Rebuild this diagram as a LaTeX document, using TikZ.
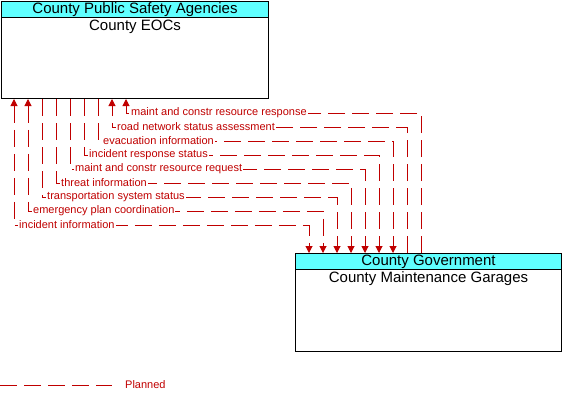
\documentclass[tikz,border=0pt]{standalone}
\usepackage{fontspec}
\setmainfont{Liberation Sans}
\usetikzlibrary{arrows.meta}
\definecolor{flowred}{RGB}{192,0,0}
\definecolor{hdrcyan}{RGB}{96,255,255}
\begin{document}
\begin{tikzpicture}[x=1pt,y=-1pt,
  archbox/.style={draw=black, line width=1pt, fill=white, inner sep=0pt, anchor=north west},
  hdrbox/.style={draw=black, line width=1pt, fill=hdrcyan, inner sep=0pt, anchor=north west,
    minimum height=16pt, font=\fontsize{15}{16}\selectfont},
  titletext/.style={anchor=north, inner sep=1.5pt, font=\fontsize{15}{16}\selectfont},
  flow/.style={draw=flowred, line width=1pt, dash pattern=on 17pt off 7pt},
  flowlbl/.style={fill=white, text=flowred, inner sep=1pt, anchor=west, font=\fontsize{11}{13}\selectfont},
  >={Triangle[length=7pt,width=7pt]}
]
\useasboundingbox (0,0) rectangle (572,405);

% boxes
\node[archbox, minimum width=267pt, minimum height=97pt] (eoc) at (1,1) {};
\node[hdrbox, minimum width=267pt] (eochdr) at (1,1) {County Public Safety Agencies};
\node[titletext] (eoctitle) at (eochdr.south) {County EOCs};

\node[archbox, minimum width=266pt, minimum height=98pt] (gar) at (295,253) {};
\node[hdrbox, minimum width=266pt] (garhdr) at (295,253) {County Government};
\node[titletext] (gartitle) at (garhdr.south) {County Maintenance Garages};

% flows
\draw[flow,->] (421,0 |- gar.north) |- (126,113) -- (126,0 |- eoc.south);
\draw[flow,->] (407,0 |- gar.north) |- (112,127) -- (112,0 |- eoc.south);
\draw[flow,->] (98,0 |- eoc.south) |- (393,141) -- (393,0 |- gar.north);
\draw[flow,->] (84,0 |- eoc.south) |- (379,155) -- (379,0 |- gar.north);
\draw[flow,->] (70,0 |- eoc.south) |- (365,169) -- (365,0 |- gar.north);
\draw[flow,->] (56,0 |- eoc.south) |- (351,183) -- (351,0 |- gar.north);
\draw[flow,->] (42,0 |- eoc.south) |- (337,197) -- (337,0 |- gar.north);
\draw[flow,<->] (28,0 |- eoc.south) |- (323,211) -- (323,0 |- gar.north);
\draw[flow,<->] (14,0 |- eoc.south) |- (309,225) -- (309,0 |- gar.north);

% labels
\node[flowlbl] (l1) at (130,113) {maint and constr resource response};
\node[flowlbl] (l2) at (116,127) {road network status assessment};
\node[flowlbl] (l3) at (102,141) {evacuation information};
\node[flowlbl] (l4) at (88,155) {incident response status};
\node[flowlbl] (l5) at (74,169) {maint and constr resource request};
\node[flowlbl] (l6) at (60,183) {threat information};
\node[flowlbl] (l7) at (46,197) {transportation system status};
\node[flowlbl] (l8) at (32,211) {emergency plan coordination};
\node[flowlbl] (l9) at (18,225) {incident information};

% legend
\coordinate (legA) at (0,385);
\coordinate (legB) at (112,385);
\draw[flow] (legA) -- (legB);
\node[flowlbl, fill=none] (legtext) at (124,385) {Planned};
\end{tikzpicture}
\end{document}
